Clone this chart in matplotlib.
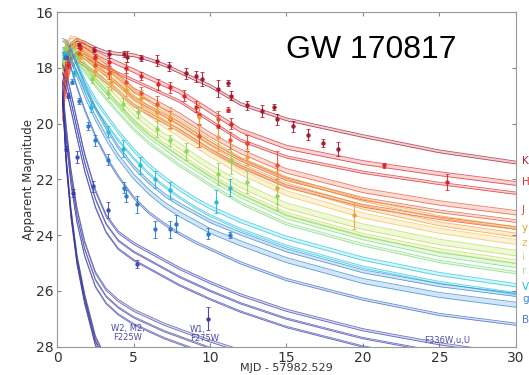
import numpy as np
import matplotlib
matplotlib.use('Agg')
import matplotlib.pyplot as plt

nan = np.nan

# model epochs (days since merger)
t_model = [0.35, 0.6, 0.9, 1.3, 1.8, 2.5, 3.2, 4, 5, 6, 7, 8, 9, 10, 12, 15, 20, 25, 30]

# model light curves, apparent magnitude per band
K_mod = [18.6, 17.6, 17.15, 17.0, 17.1, 17.3, 17.45, 17.5, 17.55, 17.7, 17.9, 18.15, 18.4, 18.65, 19.3, 19.85, 20.45, 21.0, 21.4]
H_mod = [19.0, 17.9, 17.3, 17.1, 17.2, 17.45, 17.65, 17.85, 18.1, 18.35, 18.6, 18.85, 19.2, 19.55, 20.25, 20.85, 21.4, 21.8, 22.15]
J_mod = [19.3, 18.1, 17.4, 17.2, 17.35, 17.65, 17.95, 18.3, 18.8, 19.1, 19.4, 19.7, 20.05, 20.4, 21.0, 21.7, 22.4, 22.85, 23.2]
y_mod = [18.2, 17.4, 17.15, 17.2, 17.4, 17.75, 18.1, 18.5, 19.05, 19.45, 19.8, 20.15, 20.5, 20.85, 21.5, 22.2, 23.0, 23.6, 24.0]
z_mod = [18.0, 17.35, 17.15, 17.25, 17.5, 17.9, 18.25, 18.7, 19.25, 19.65, 20.05, 20.4, 20.75, 21.1, 21.75, 22.5, 23.3, 23.85, 24.25]
i_mod = [17.8, 17.3, 17.2, 17.35, 17.7, 18.15, 18.55, 19.0, 19.6, 20.05, 20.45, 20.8, 21.2, 21.55, 22.2, 22.95, 23.7, 24.25, 24.65]
r_mod = [17.6, 17.25, 17.25, 17.5, 17.9, 18.4, 18.85, 19.35, 19.95, 20.45, 20.85, 21.25, 21.6, 21.95, 22.6, 23.35, 24.1, 24.7, 25.1]
V_mod = [17.4, 17.3, 17.45, 17.85, 18.45, 19.15, 19.7, 20.3, 20.95, 21.5, 21.95, 22.35, 22.7, 23.0, 23.5, 24.1, 24.85, 25.4, 25.8]
g_mod = [17.35, 17.4, 17.7, 18.25, 18.95, 19.8, 20.5, 21.2, 21.9, 22.45, 22.9, 23.25, 23.55, 23.85, 24.3, 24.9, 25.65, 26.15, 26.5]
B_mod = [17.5, 17.6, 18.0, 18.7, 19.5, 20.45, 21.2, 21.9, 22.65, 23.2, 23.6, 23.95, 24.25, 24.5, 25.0, 25.6, 26.3, 26.85, 27.2]
u_mod = [18.2, 18.5, 19.2, 20.2, 21.4, 22.7, 23.6, 24.2, 24.6, 24.9, 25.2, 25.5, 25.75, 26.0, 26.45, 27.0, 27.7, 28.2, 28.6]
W1_mod = [18.9, 20.4, 21.9, 23.3, 24.5, 25.6, 26.2, 26.6, 26.95, 27.2, 27.45, 27.65, 27.85, 28.05, 28.4, nan, nan, nan, nan]
W2_mod = [19.0, 21.4, 23.2, 24.9, 26.3, 27.8, 28.6, nan, nan, nan, nan, nan, nan, nan, nan, nan, nan, nan, nan]

# filter variants within each band (mag offsets) and model spread
band_names = ['K', 'H', 'J', 'y', 'z', 'i', 'r', 'V', 'g', 'B', 'u', 'W1', 'W2']
band_models = [K_mod, H_mod, J_mod, y_mod, z_mod, i_mod, r_mod, V_mod, g_mod, B_mod, u_mod, W1_mod, W2_mod]
band_offsets = [[0], [0, 0.35], [0, 0.3, 0.55], [0, -0.25], [0], [0, 0.3], [0, 0.25],
                [0, 0.3], [0, -0.35], [0], [-0.3, 0, 0.3], [-0.25, 0, 0.25], [-0.15, 0, 0.15]]
band_spread = [0.05, 0.07, 0.08, 0.07, 0.09, 0.1, 0.07, 0.06, 0.09, 0.04, 0.04, 0.04, 0.04]
band_colors = ['#a5162b', '#d8242a', '#e8502f', '#f0a02c', '#f2c24a', '#b9dd46', '#7fdc7a',
               '#22c4e0', '#2a86d2', '#3a66c4', '#3d42b0', '#4848a8', '#34349a']

# photometry: (time, mag, error)
K_t = [0.6, 1.4, 2.4, 3.4, 4.4, 4.6, 5.5, 6.5, 7.3, 8.4, 9.1, 9.5, 10.5, 11.2, 11.4, 12.4, 13.4, 14.2, 14.4, 15.4, 16.4, 17.4, 18.4]
K_m = [17.6, 17.2, 17.35, 17.5, 17.5, 17.6, 17.65, 17.75, 17.95, 18.2, 18.3, 18.4, 18.75, 18.55, 19.0, 19.35, 19.55, 19.4, 19.85, 20.1, 20.4, 20.7, 20.9]
K_e = [0.1, 0.1, 0.1, 0.15, 0.1, 0.2, 0.1, 0.2, 0.15, 0.2, 0.2, 0.25, 0.3, 0.1, 0.15, 0.15, 0.2, 0.1, 0.2, 0.2, 0.2, 0.15, 0.25]
H_t = [0.7, 1.5, 2.5, 3.4, 4.5, 5.5, 6.6, 7.4, 8.3, 9.1, 9.3, 10.5, 11.2, 11.4, 12.4, 21.4, 25.5]
H_m = [17.9, 17.3, 17.6, 17.8, 18.0, 18.3, 18.6, 18.7, 19.0, 19.4, 19.7, 20.1, 19.5, 20.0, 20.7, 21.5, 22.1]
H_e = [0.1, 0.1, 0.1, 0.15, 0.2, 0.15, 0.2, 0.2, 0.2, 0.2, 0.3, 0.4, 0.1, 0.2, 0.3, 0.1, 0.3]
J_t = [0.6, 1.4, 2.5, 3.4, 4.5, 5.5, 6.5, 7.4, 9.3, 10.5, 11.3, 12.4, 14.4]
J_m = [18.2, 17.5, 17.9, 18.2, 18.5, 18.9, 19.3, 19.85, 20.45, 19.85, 20.6, 20.7, 21.5]
J_e = [0.2, 0.1, 0.2, 0.2, 0.3, 0.2, 0.3, 0.3, 0.4, 0.3, 0.3, 0.3, 0.5]
y_t = [0.5, 1.5, 2.5, 3.5, 4.5, 5.5, 6.5, 7.4, 9.3, 10.5, 12.4, 14.4, 19.4]
y_m = [17.3, 17.6, 18.1, 18.5, 18.8, 19.1, 19.6, 19.8, 19.75, 20.5, 21.2, 22.3, 23.3]
y_e = [0.3, 0.2, 0.2, 0.3, 0.2, 0.3, 0.3, 0.4, 0.5, 0.5, 0.3, 0.6, 0.5]
i_t = [0.6, 1.3, 2.3, 3.3, 4.3, 5.3, 6.5, 7.4, 8.4, 10.5, 11.4, 12.4, 14.4]
i_m = [17.3, 17.6, 18.4, 18.9, 19.3, 19.6, 20.2, 20.6, 21.0, 21.8, 21.3, 22.1, 22.6]
i_e = [0.2, 0.1, 0.15, 0.2, 0.2, 0.2, 0.3, 0.2, 0.3, 0.4, 0.5, 0.4, 0.5]
V_t = [0.5, 1.1, 2.2, 3.3, 4.3, 5.4, 6.4, 7.4, 10.4, 11.3]
V_m = [17.5, 18.2, 19.4, 20.3, 20.9, 21.5, 22.0, 22.4, 22.8, 22.3]
V_e = [0.2, 0.1, 0.2, 0.2, 0.3, 0.3, 0.3, 0.3, 0.4, 0.3]
g_t = [0.5, 1.0, 1.4, 2.0, 2.5, 3.3, 4.4, 4.5, 5.2, 6.4, 7.4, 7.8, 9.9, 11.3]
g_m = [17.6, 18.5, 19.2, 20.1, 20.6, 21.3, 22.3, 22.6, 22.9, 23.8, 23.8, 23.6, 23.95, 24.0]
g_e = [0.1, 0.1, 0.1, 0.15, 0.2, 0.2, 0.2, 0.2, 0.3, 0.3, 0.3, 0.3, 0.2, 0.1]
u_t = [0.7, 1.3, 2.35, 3.35, 5.2]
u_m = [19.0, 21.2, 22.25, 23.1, 25.05]
u_e = [0.1, 0.2, 0.2, 0.3, 0.15]
W_t = [0.6, 1.05, 9.9]
W_m = [20.9, 22.5, 27.0]
W_e = [0.1, 0.15, 0.4]

obs = [(K_t, K_m, K_e, '#a5162b'), (H_t, H_m, H_e, '#d8242a'), (J_t, J_m, J_e, '#e8502f'),
       (y_t, y_m, y_e, '#eea03a'), (i_t, i_m, i_e, '#8fd65a'), (V_t, V_m, V_e, '#22b8dc'),
       (g_t, g_m, g_e, '#2a78cc'), (u_t, u_m, u_e, '#3c4ab8'), (W_t, W_m, W_e, '#3a3aa8')]

fig = plt.figure(figsize=(5.29, 3.75), dpi=100)
ax = fig.add_axes([0.108, 0.076, 0.867, 0.892])

t = np.array(t_model)
for name, mod, offs, w, col in zip(band_names, band_models, band_offsets, band_spread, band_colors):
    mod = np.array(mod)
    for k, off in enumerate(offs):
        m = mod + off
        ww = w if k == 0 else w * 0.6
        ax.fill_between(t, m - ww, m + ww, color=col, alpha=0.2, lw=0)
        ax.plot(t, m - ww, color=col, lw=0.6, alpha=0.75)
        ax.plot(t, m + ww, color=col, lw=0.6, alpha=0.75)

for tt, mm, ee, col in obs:
    ax.errorbar(tt, mm, yerr=ee, fmt='o', color=col, ms=2.2, elinewidth=0.8,
                capsize=1.5, capthick=0.6, alpha=0.9)

ax.set_xlim(0, 30)
ax.set_ylim(28, 16)
ax.set_xticks([0, 5, 10, 15, 20, 25, 30])
ax.set_yticks([16, 18, 20, 22, 24, 26, 28])
ax.tick_params(direction='in', top=True, right=True, length=3, color='#888888',
               labelsize=10, labelcolor='#333333')
ax.tick_params(axis='x', pad=3)
ax.tick_params(axis='y', pad=2.5)
for s in ax.spines.values():
    s.set_color('#999999')

ax.set_xlabel('MJD - 57982.529', fontsize=8, labelpad=-1, color='#333333')
ax.set_ylabel('Apparent Magnitude', fontsize=8.5, labelpad=1, color='#333333')

# band labels along the right edge
lab_y = [21.35, 22.1, 23.1, 23.75, 24.3, 24.8, 25.3, 25.85, 26.3, 27.05]
lab_c = ['#b02030', '#e03030', '#e05040', '#e0a030', '#e8b860', '#d0d890', '#a8e0a8', '#20c0e0', '#4080d0', '#5080d0']
for name, yy, cc in zip(band_names[:10], lab_y, lab_c):
    ax.text(30.4, yy, name, color=cc, fontsize=7.5, va='center', ha='left', clip_on=False)

ax.text(4.6, 27.5, 'W2, M2,\nF225W', color='#4a4aa8', fontsize=6, ha='center', va='center', linespacing=1.0)
ax.text(8.7, 27.55, 'W1,\nF275W', color='#4a4aa8', fontsize=6, ha='left', va='center', linespacing=1.0)
ax.text(24.0, 27.8, 'F336W,u,U', color='#4a4aa8', fontsize=6, ha='left', va='center')

ax.text(0.684, 0.887, 'GW 170817', transform=ax.transAxes, fontsize=23,
        family='Liberation Sans', ha='center', va='center', color='black')

fig.savefig('out.png', dpi=100)
